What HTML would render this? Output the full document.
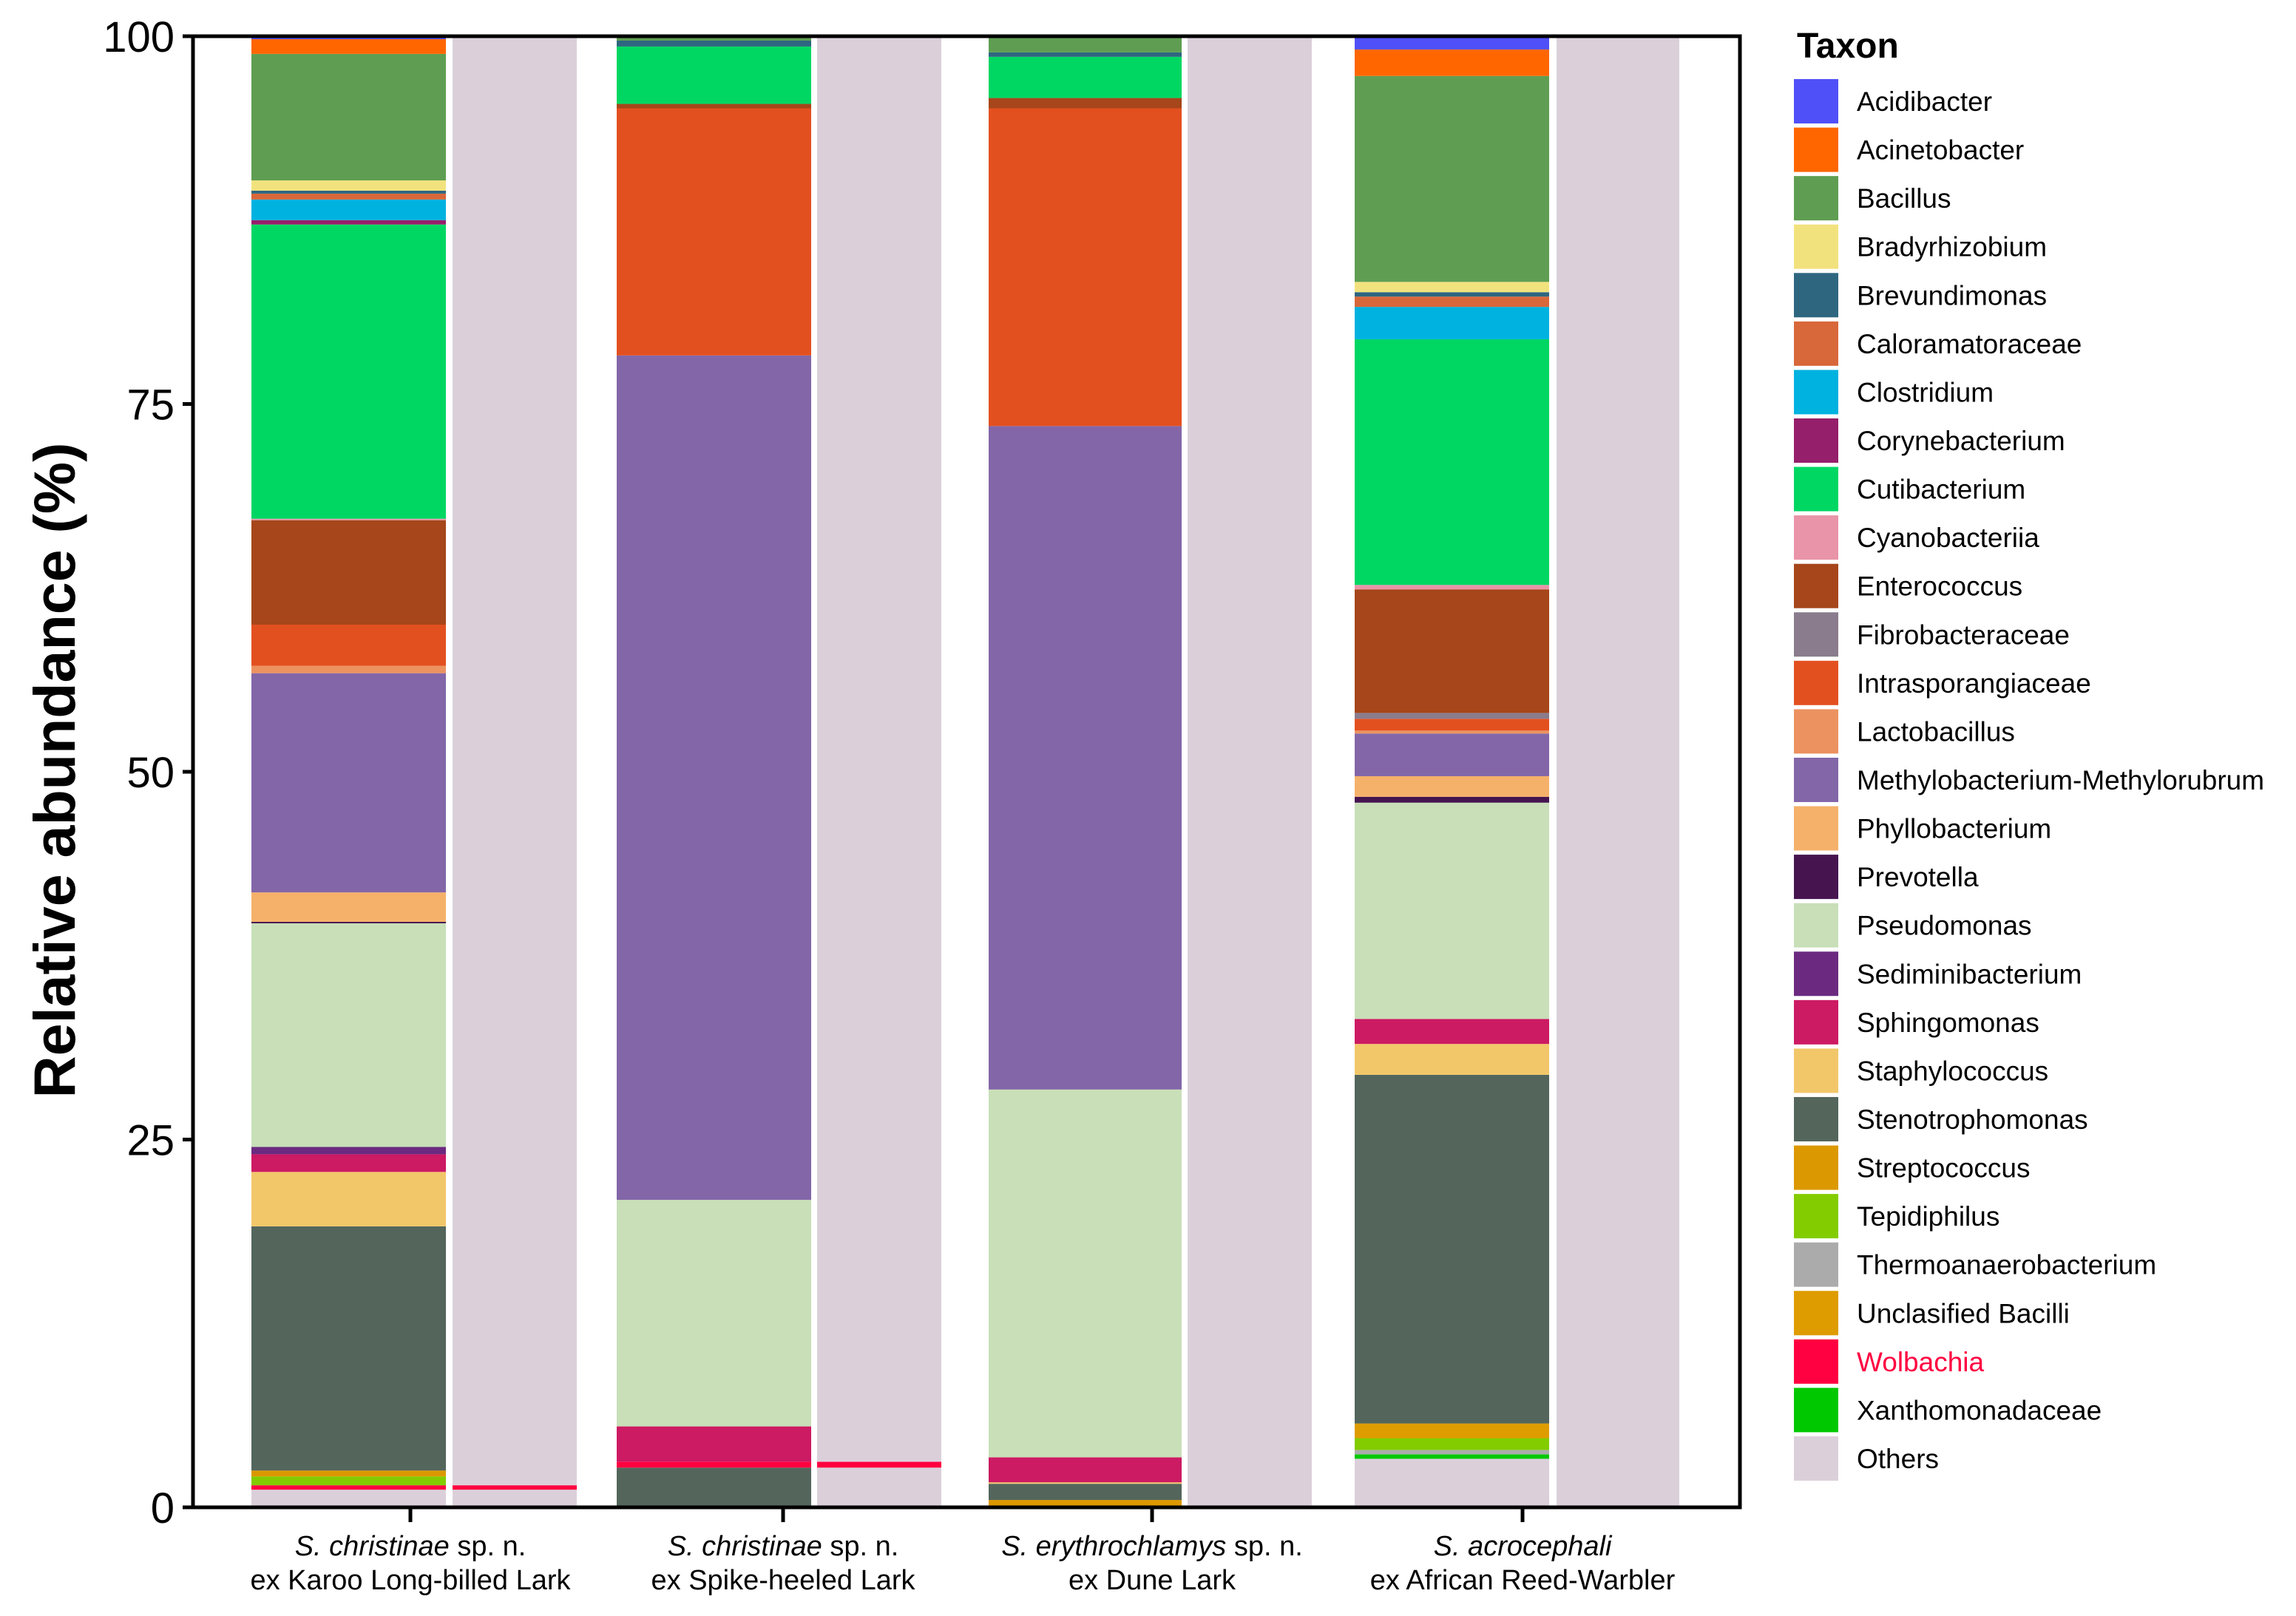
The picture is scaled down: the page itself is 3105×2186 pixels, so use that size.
<!DOCTYPE html>
<html><head><meta charset="utf-8"><style>
html,body{margin:0;padding:0;background:#fff;}
svg{display:block;font-family:"Liberation Sans",Arial,sans-serif;}
</style></head><body>
<svg id="chart" width="3105" height="2186" viewBox="0 0 3105 2186" xmlns="http://www.w3.org/2000/svg">
<g id="bars"></g>
<g id="axes"></g>
<g id="legend"></g>
</svg>
<script>
const taxa = ["Acidibacter","Acinetobacter","Bacillus","Bradyrhizobium","Brevundimonas","Caloramatoraceae","Clostridium","Corynebacterium","Cutibacterium","Cyanobacteriia","Enterococcus","Fibrobacteraceae","Intrasporangiaceae","Lactobacillus","Methylobacterium-Methylorubrum","Phyllobacterium","Prevotella","Pseudomonas","Sediminibacterium","Sphingomonas","Staphylococcus","Stenotrophomonas","Streptococcus","Tepidiphilus","Thermoanaerobacterium","Unclasified Bacilli","Wolbachia","Xanthomonadaceae","Others"];
const colors = ["#5050F8","#FF6600","#5F9E52","#F2E27E","#2E6680","#D8673A","#00B2E0","#951F6A","#00D763","#E994A8","#A6461A","#8A7C8C","#E35020","#EC9260","#8366A8","#F5B16A","#461550","#C8DFB8","#6B2A80","#CC1A63","#F2C76A","#54665C","#DB9800","#83CC00","#ABABAB","#DE9C00","#FF0040","#00C800","#DBD0DA"];
const yTicks = [0,25,50,75,100];
// Bacterial community bars: segments drawn bottom-up [taxon, value %]
const bar1Taxa = ["Others","Wolbachia","Tepidiphilus","Streptococcus","Stenotrophomonas","Staphylococcus","Sphingomonas","Sediminibacterium","Pseudomonas","Prevotella","Phyllobacterium","Methylobacterium-Methylorubrum","Lactobacillus","Intrasporangiaceae","Enterococcus","Cyanobacteriia","Cutibacterium","Corynebacterium","Clostridium","Caloramatoraceae","Brevundimonas","Bradyrhizobium","Bacillus","Acinetobacter","Acidibacter"];
const bar1Vals = [1.2,0.3,0.6,0.4,16.6,3.7,1.2,0.5,15.2,0.1,2.0,14.9,0.5,2.8,7.1,0.1,20.0,0.3,1.4,0.4,0.2,0.7,8.6,1.0,0.2];
const bar2Taxa = ["Stenotrophomonas","Wolbachia","Sphingomonas","Pseudomonas","Methylobacterium-Methylorubrum","Intrasporangiaceae","Enterococcus","Cutibacterium","Brevundimonas","Bacillus"];
const bar2Vals = [2.7,0.4,2.4,15.4,57.4,16.8,0.3,3.9,0.4,0.3];
const bar3Taxa = ["Streptococcus","Stenotrophomonas","Staphylococcus","Sphingomonas","Pseudomonas","Methylobacterium-Methylorubrum","Intrasporangiaceae","Enterococcus","Cutibacterium","Brevundimonas","Bacillus"];
const bar3Vals = [0.5,1.1,0.1,1.7,25.0,45.1,21.6,0.7,2.8,0.3,1.1];
const bar4Taxa = ["Others","Xanthomonadaceae","Thermoanaerobacterium","Tepidiphilus","Unclasified Bacilli","Stenotrophomonas","Staphylococcus","Sphingomonas","Pseudomonas","Prevotella","Phyllobacterium","Methylobacterium-Methylorubrum","Lactobacillus","Intrasporangiaceae","Fibrobacteraceae","Enterococcus","Cyanobacteriia","Cutibacterium","Clostridium","Caloramatoraceae","Brevundimonas","Bradyrhizobium","Bacillus","Acinetobacter","Acidibacter"];
const bar4Vals = [3.3,0.3,0.3,0.8,1.0,23.7,2.1,1.7,14.7,0.4,1.4,2.9,0.2,0.8,0.4,8.4,0.3,16.7,2.2,0.7,0.3,0.7,14.0,1.8,1.0];
// Wolbachia-only (host) bars
const host1Taxa = ["Others","Wolbachia","Others"];
const host1Vals = [1.2,0.3,98.5];
const host2Taxa = ["Others","Wolbachia","Others"];
const host2Vals = [2.7,0.4,96.9];
const host3Taxa = ["Others"];
const host3Vals = [100];
const host4Taxa = ["Others"];
const host4Vals = [100];

const ns="http://www.w3.org/2000/svg";
const Y0=2039, Y100=49;
function yScale(v){return Y0-(Y0-Y100)*v/100;}
function mk(tag,attrs,parent){const e=document.createElementNS(ns,tag);for(const k in attrs)e.setAttribute(k,attrs[k]);parent.appendChild(e);return e;}
const barsG=document.getElementById('bars'), axesG=document.getElementById('axes'), legG=document.getElementById('legend');
const barDefs=[
 [bar1Taxa,bar1Vals,340,603,'bacteria-bar-karoo'],[host1Taxa,host1Vals,612,780,'wolbachia-bar-karoo'],
 [bar2Taxa,bar2Vals,834,1097,'bacteria-bar-spike-heeled'],[host2Taxa,host2Vals,1105,1273,'wolbachia-bar-spike-heeled'],
 [bar3Taxa,bar3Vals,1337,1598,'bacteria-bar-dune'],[host3Taxa,host3Vals,1606,1774,'wolbachia-bar-dune'],
 [bar4Taxa,bar4Vals,1832,2095,'bacteria-bar-reed-warbler'],[host4Taxa,host4Vals,2105,2271,'wolbachia-bar-reed-warbler']];
barDefs.forEach(([tx,vals,x0,x1,name])=>{
  const g=mk('g',{},barsG);
  
  
  let cum=0;
  tx.forEach((t,i)=>{
    const v=vals[i]; const yTop=yScale(cum+v), yBot=yScale(cum); cum+=v;
    const r=mk('rect',{x:x0,y:yTop,width:x1-x0,height:Math.max(0,yBot-yTop),fill:colors[taxa.indexOf(t)]},g);
    
    
  });
});
const frame=mk('rect',{x:261,y:Y100,width:2092,height:Y0-Y100,fill:'none',stroke:'#000','stroke-width':5},axesG);


yTicks.forEach(t=>{
  const y=yScale(t);
  const l=mk('line',{x1:247,x2:261,y1:y,y2:y,stroke:'#000','stroke-width':5},axesG);
  
  
  const tx=mk('text',{x:236,y:y+21,'text-anchor':'end','font-size':58,fill:'#000'},axesG);
  tx.textContent=t;
  
  
});
const groupCenters=[555,1059,1558,2059];
const xLab1=[["S. christinae"," sp. n."],["S. christinae"," sp. n."],["S. erythrochlamys"," sp. n."],["S. acrocephali",""]];
const xLab2=["ex Karoo Long-billed Lark","ex Spike-heeled Lark","ex Dune Lark","ex African Reed-Warbler"];
groupCenters.forEach((cx,i)=>{
  const l=mk('line',{x1:cx,x2:cx,y1:Y0,y2:Y0+20,stroke:'#000','stroke-width':5},axesG);
  
  
  const t1=mk('text',{x:cx,y:2104,'text-anchor':'middle','font-size':38},axesG);
  
  
  const a=mk('tspan',{'font-style':'italic'},t1); a.textContent=xLab1[i][0];
  const b=mk('tspan',{},t1); b.textContent=xLab1[i][1];
  const t2=mk('text',{x:cx,y:2150,'text-anchor':'middle','font-size':38},axesG);
  t2.textContent=xLab2[i];
  
  
});
const yt=mk('text',{x:0,y:0,transform:'translate(101,1042) rotate(-90)','text-anchor':'middle','font-size':79,'font-weight':'bold'},axesG);
yt.textContent='Relative abundance (%)';


const lt=mk('text',{x:2430,y:78,'font-size':48,'font-weight':'bold'},legG);
lt.textContent='Taxon';


taxa.forEach((t,i)=>{
  const cy=137+i*65.57;
  const g=mk('g',{},legG);
  
  
  mk('rect',{x:2426,y:cy-30,width:60,height:60,fill:colors[i]},g);
  const tx=mk('text',{x:2511,y:cy+13,'font-size':37,fill:t==='Wolbachia'?'#FF0040':'#000'},g);
  tx.textContent=t;
});
</script>
</body></html>
